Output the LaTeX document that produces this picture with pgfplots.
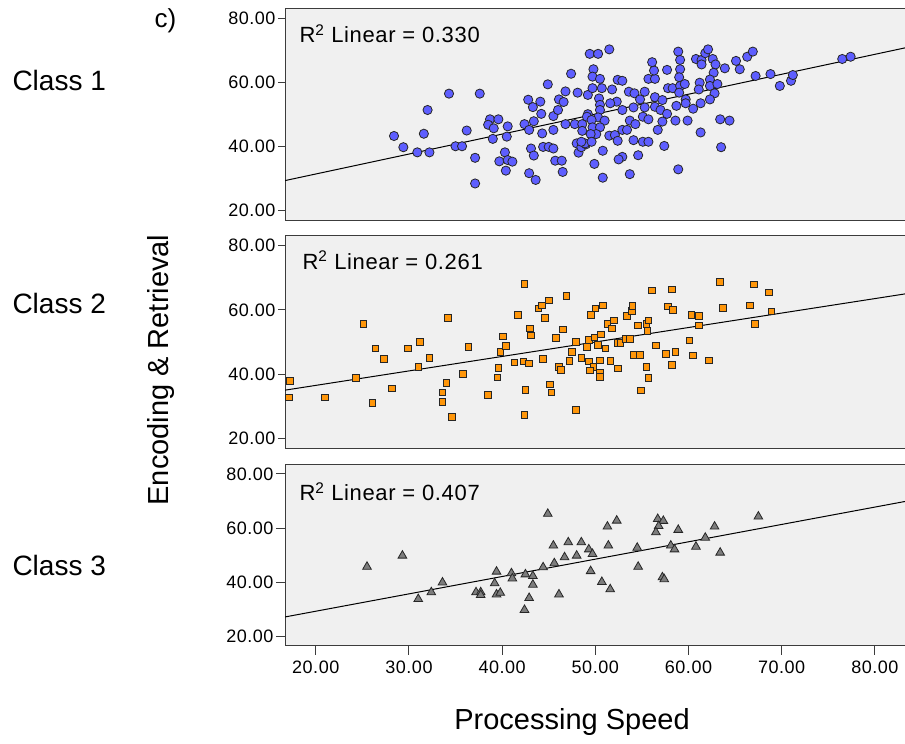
\documentclass[border=0pt]{standalone}
\usepackage{pgfplots}
\pgfplotsset{compat=1.18}
\usepackage{fontspec}
\setmainfont{Liberation Sans}
\newfontfamily\spaced[LetterSpace=3]{Liberation Sans}
\definecolor{bgc}{RGB}{240,240,240}
\definecolor{axc}{RGB}{60,60,60}
\definecolor{c1}{RGB}{94,94,255}
\definecolor{c2}{RGB}{255,150,10}
\definecolor{c3}{RGB}{125,125,125}
\pgfplotsset{
  panel/.style={
    scale only axis, width=620.6pt, anchor=south west,
    xmin=16.7, xmax=83.3, ymin=16.9, ymax=83.1,
    axis background/.style={fill=bgc},
    axis line style={axc, line width=1pt},
    ytick={20,40,60,80}, xtick=\empty,
    tick align=outside, major tick length=7pt,
    tick style={axc, line width=1pt},
    ytick pos=left, xtick pos=bottom,
    tick label style={font=\spaced\fontsize{18}{20}\selectfont},
    yticklabel style={xshift=1pt},
    /pgf/number format/fixed, /pgf/number format/fixed zerofill,
    /pgf/number format/precision=2, /pgf/number format/assume math mode=true,
    clip=true,
  },
}
\tikzset{rtext/.style={anchor=west, font=\spaced\fontsize{22}{24}\selectfont}}
\begin{document}
\begin{tikzpicture}
\useasboundingbox (0,0) rectangle (905pt,744pt);
% ---------- Panel 1 ----------
\begin{axis}[panel, at={(285pt,523.3pt)}, height=212.4pt]
\addplot[only marks, mark=*, mark size=4.6pt, mark options={fill=c1, draw=black!85, line width=0.8pt}] table {
x y
28.4 43.3
29.4 39.8
30.9 38.2
32.2 38.2
31.6 44.0
32.0 51.4
34.3 56.5
37.6 56.5
35.0 40.1
35.7 40.1
36.2 45.0
37.1 36.5
37.1 28.5
38.7 48.5
39.6 48.5
38.5 46.8
39.1 45.7
39.0 42.4
40.6 46.3
40.5 43.1
40.3 38.2
39.7 35.4
40.6 35.8
41.1 35.3
40.4 32.5
42.4 47.0
42.8 54.6
43.3 52.3
44.1 54.0
44.9 59.4
44.2 50.2
43.4 47.9
42.9 45.2
44.3 44.1
43.1 39.4
43.4 37.2
42.9 31.7
43.6 29.6
44.4 39.9
45.0 39.9
45.5 39.4
45.7 35.6
46.4 35.6
46.5 32.1
45.5 49.5
45.5 45.2
46.0 51.4
46.1 54.7
46.6 53.9
46.8 57.2
47.4 62.7
46.8 47.0
47.8 47.0
48.1 56.8
49.2 56.1
48.6 47.0
48.6 44.9
48.0 41.0
48.2 38.1
48.5 39.8
49.0 40.7
49.2 50.1
49.1 49.3
48.9 41.0
48.5 41.5
49.4 68.9
50.3 68.9
51.5 70.3
49.8 64.1
49.7 61.8
50.5 61.1
49.7 58.2
50.7 58.2
50.4 55.0
50.5 53.0
50.5 51.4
50.3 49.1
51.8 57.8
52.4 60.8
52.9 60.5
52.3 54.0
51.6 53.5
51.0 48.1
49.6 48.3
49.7 46.0
50.5 46.0
50.1 43.9
49.5 43.9
49.6 41.5
50.8 38.7
49.9 34.6
50.8 30.3
51.5 43.4
52.1 43.6
52.4 41.8
52.9 45.2
53.4 45.2
53.7 48.1
52.9 51.4
53.6 57.1
54.2 56.6
54.1 52.2
54.3 47.0
54.1 42.0
52.9 36.8
52.5 36.0
53.7 31.4
54.6 37.3
55.1 41.5
55.7 41.5
55.1 49.3
55.7 48.5
55.3 52.2
54.8 54.7
55.3 57.1
55.7 61.1
56.4 61.1
56.3 63.7
56.1 66.3
56.4 55.4
56.4 52.4
57.0 51.4
57.2 54.5
57.7 63.9
57.8 58.2
57.7 50.2
57.2 47.8
56.7 45.2
57.4 40.2
58.3 58.2
58.7 52.7
58.6 48.1
58.9 69.6
59.1 67.0
59.1 64.1
59.0 61.6
59.1 58.9
59.6 59.5
59.0 56.8
59.7 54.7
59.7 53.5
58.9 32.9
59.9 48.1
60.5 51.8
61.2 59.9
61.1 57.8
61.3 53.5
61.3 44.4
60.8 67.3
61.4 67.0
61.4 65.6
61.8 69.1
62.1 70.3
62.6 67.3
62.9 65.6
62.7 63.0
62.3 60.9
62.3 58.9
63.1 59.5
62.8 56.6
62.3 54.7
63.4 48.5
64.4 48.1
63.5 39.8
63.9 64.4
65.1 66.7
65.5 64.1
66.3 68.0
66.9 69.6
67.2 62.0
68.8 62.6
69.8 58.9
71.0 60.5
71.2 62.3
76.5 67.3
77.4 68.0
};
\addplot[black, line width=1pt] coordinates {(16.7,29.4) (83.3,70.8)};
\node[rtext] at (rel axis cs:0,1) [xshift=11pt, yshift=-25.5pt] {R\textsuperscript{2} Linear = 0.330};
\end{axis}
% ---------- Panel 2 ----------
\begin{axis}[panel, at={(285pt,295.7pt)}, height=212.6pt]
\addplot[only marks, mark=square*, mark size=3.3pt, mark options={fill=c2, draw=black!85, line width=0.8pt}] table {
x y
17.2 37.8
17.1 32.7
21.0 32.7
24.3 38.8
25.1 55.6
26.1 31.0
26.4 48.0
27.3 44.8
28.2 35.6
29.9 48.0
31.2 50.1
31.0 42.3
32.2 45.1
34.0 37.2
33.6 34.3
33.6 31.4
34.6 26.6
34.2 57.5
35.8 40.1
36.4 48.5
38.5 33.5
39.5 39.0
39.6 41.9
39.8 46.9
40.1 51.7
40.4 48.8
41.3 43.7
41.7 58.5
42.3 44.0
42.9 43.3
42.4 68.0
43.0 54.2
43.1 52.0
42.5 35.0
42.4 27.3
43.9 60.5
44.3 61.4
45.0 62.9
44.6 57.5
44.4 44.7
45.1 36.8
45.3 34.3
45.8 51.3
46.5 53.9
46.1 42.3
46.3 41.4
46.9 64.3
47.2 44.2
47.5 46.9
47.9 28.8
47.9 50.0
48.5 45.1
49.5 58.5
50.0 60.4
50.8 61.4
49.3 50.6
49.1 48.4
49.9 51.4
50.6 52.4
50.3 49.1
51.1 48.0
49.3 44.0
50.5 44.3
49.8 42.2
49.4 41.2
50.5 40.5
50.5 39.2
51.6 44.1
52.4 41.8
51.3 55.6
52.0 56.7
51.8 54.2
52.4 49.8
52.7 49.8
53.3 50.9
53.7 50.9
53.4 58.1
53.9 59.6
54.0 61.2
54.1 45.9
54.8 45.9
54.6 55.2
55.5 55.6
55.7 56.7
55.6 53.4
55.5 42.2
55.7 38.9
54.9 34.9
56.1 66.1
56.5 49.0
57.6 46.2
58.2 66.4
57.8 61.1
58.3 60.0
58.6 46.9
58.2 42.9
60.1 50.5
60.3 58.5
61.1 58.1
61.1 55.2
60.5 45.8
62.2 44.3
63.4 68.7
63.7 60.6
66.6 61.4
67.0 67.9
67.1 55.6
68.6 65.4
68.9 59.5
};
\addplot[black, line width=1pt] coordinates {(16.7,35.0) (83.3,65.0)};
\node[rtext] at (rel axis cs:0,1) [xshift=14pt, yshift=-24.5pt] {R\textsuperscript{2} Linear = 0.261};
\end{axis}
% ---------- Panel 3 ----------
\begin{axis}[panel, at={(285pt,98pt)}, height=181pt, ymin=16.6, ymax=83.3,
  xtick={20,30,...,80}, major tick length=9pt, xticklabel style={yshift=-2pt}]
\addplot[only marks, mark=triangle*, mark size=5pt, mark options={fill=c3, draw=black!85, line width=0.8pt}] table {
x y
25.5 45.8
29.3 49.9
31.0 33.9
32.4 36.4
33.6 40.0
37.2 36.4
37.7 36.4
37.7 35.4
39.4 44.0
39.2 39.7
39.4 35.6
39.8 36.2
41.0 43.4
41.1 41.5
42.5 43.0
43.3 42.4
43.3 39.2
42.9 34.3
42.4 29.9
44.4 45.6
44.9 65.3
45.5 53.6
45.6 47.1
46.1 35.6
46.7 49.3
47.1 54.8
48.0 49.9
48.5 54.8
49.3 52.2
49.7 50.5
49.5 44.2
50.7 40.2
51.6 37.5
51.3 60.6
52.3 62.8
51.4 53.6
54.5 52.8
54.6 45.8
56.7 63.4
57.3 62.7
56.8 60.8
56.5 58.5
57.2 41.9
57.4 41.2
58.9 59.4
58.1 53.6
58.5 52.2
60.8 53.2
61.8 56.5
62.8 60.6
63.4 51.0
67.5 64.3
};
\addplot[black, line width=1pt] coordinates {(16.7,27.3) (83.3,69.9)};
\node[rtext] at (rel axis cs:0,1) [xshift=11pt, yshift=-26.5pt] {R\textsuperscript{2} Linear = 0.407};
\end{axis}
% ---------- outer labels ----------
\node[anchor=west, font=\fontsize{28}{30}\selectfont] at (9pt,663pt) {Class 1};
\node[anchor=west, font=\fontsize{28}{30}\selectfont] at (9pt,441pt) {Class 2};
\node[anchor=west, font=\fontsize{28}{30}\selectfont] at (9pt,179pt) {Class 3};
\node[anchor=west, font=\fontsize{26}{28}\selectfont] at (151pt,723pt) {c)};
\node[rotate=90, font=\fontsize{29}{31}\selectfont] at (161pt,374pt) {Encoding \& Retrieval};
\node[font=\fontsize{29}{31}\selectfont] at (572pt,22pt) {Processing Speed};
\end{tikzpicture}
\end{document}
